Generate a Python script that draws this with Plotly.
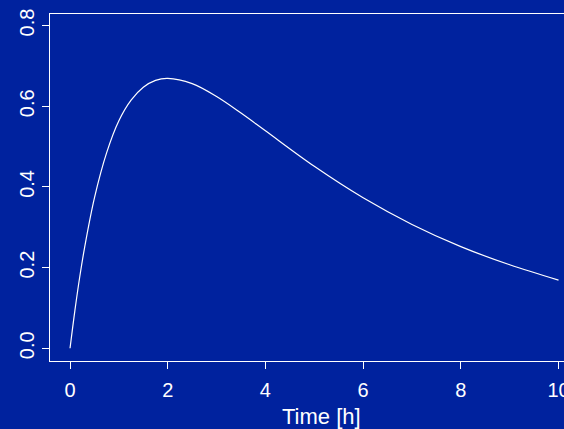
import plotly.graph_objects as go

# Values (concentration vs time)
time_h = [0, 0.1, 0.2, 0.3, 0.5, 0.75, 1, 1.25, 1.5, 1.75, 2, 2.5, 3, 3.5, 4, 5, 6, 7, 8, 9, 10]
conc = [0.0, 0.094, 0.178, 0.251, 0.373, 0.485, 0.564, 0.615, 0.647, 0.664, 0.669,
        0.656, 0.624, 0.583, 0.539, 0.451, 0.373, 0.307, 0.252, 0.207, 0.169]

x_ticks = [0, 2, 4, 6, 8, 10]
y_ticks = [0.0, 0.2, 0.4, 0.6, 0.8]
y_tick_labels = ["0.0", "0.2", "0.4", "0.6", "0.8"]
x_title = "Time [h]"

bg = "#00229E"
font = dict(family="Liberation Sans, Arial, sans-serif", size=20, color="white")
title_font = dict(family="Liberation Sans, Arial, sans-serif", size=22, color="white")

fig = go.Figure(go.Scatter(x=time_h, y=conc, mode="lines",
                           line=dict(color="white", width=1.2, shape="spline"),
                           hoverinfo="skip"))

fig.add_annotation(text=x_title, xref="paper", yref="paper", x=0.529, y=-0.161,
                   xanchor="center", yanchor="middle", showarrow=False, font=title_font)

fig.update_layout(
    width=564, height=429, autosize=False,
    margin=dict(l=50, r=0, t=14, b=68),
    paper_bgcolor=bg, plot_bgcolor=bg,
    showlegend=False, font=font,
    xaxis=dict(range=[-0.41, 10.112], tickvals=x_ticks, showgrid=False, zeroline=False,
               showline=True, linecolor="white", linewidth=1, mirror=True,
               ticks="outside", ticklen=7, tickcolor="white", tickwidth=1,
               ticklabelstandoff=4, ticklabeloverflow="allow", automargin=False,
               tickfont=font),
    yaxis=dict(range=[-0.0315, 0.8287], tickvals=y_ticks, ticktext=y_tick_labels,
               showgrid=False, zeroline=False, showline=True, linecolor="white",
               linewidth=1, ticks="outside", ticklen=7, tickcolor="white", tickwidth=1,
               tickangle=-90, tickfont=font, automargin=False),
)

fig.write_html(
    "out.html",
    config={"displayModeBar": False, "responsive": False},
    post_script="document.body.style.margin='0';document.body.style.background='%s';"
                "document.body.style.overflow='hidden';" % bg,
)
